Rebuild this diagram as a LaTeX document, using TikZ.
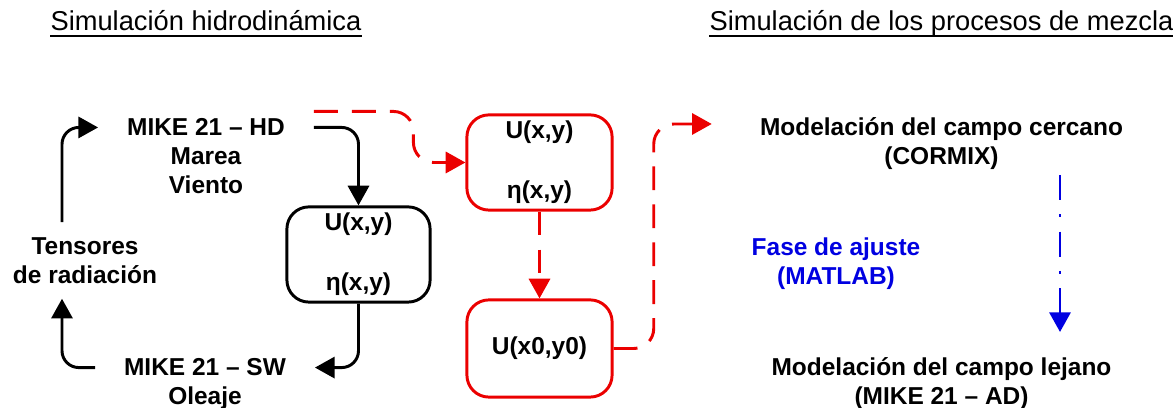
\documentclass[tikz,border=0pt]{standalone}
\usepackage{fontspec}
\setmainfont{Liberation Sans}
\usetikzlibrary{arrows.meta,positioning,calc}
\definecolor{flujorojo}{RGB}{235,0,0}
\definecolor{ajusteazul}{RGB}{0,0,225}

\begin{document}
\begin{tikzpicture}[
    txt/.style={inner sep=0pt, align=center, font=\bfseries\fontsize{17.4}{20.55}\selectfont},
    mike/.style={txt, inner xsep=0.72cm},
    titulo/.style={inner sep=0pt, font=\fontsize{19.4}{23}\selectfont},
    box/.style={draw, line width=2.1pt, rounded corners=0.55cm, minimum width=3.58cm, minimum height=2.38cm, txt},
    rbox/.style={box, draw=flujorojo, minimum width=3.63cm},
    arr/.style={-{Triangle[width=15pt,length=14pt]}, line width=2.1pt},
    rarr/.style={arr, flujorojo, dash pattern=on 17pt off 10pt},
    barr/.style={arr, ajusteazul, dash pattern=on 18pt off 10pt on 2.2pt off 10pt}
]
\useasboundingbox (0,0) rectangle (29.325,10.2);

% titulos
\node[titulo, anchor=base] (hizq) at (5.15,9.425) {Simulación hidrodinámica};
\node[titulo, anchor=base] (hder) at (23.5375,9.425) {Simulación de los procesos de mezcla};
\draw[line width=1.4pt] ([yshift=-3.5pt]hizq.base west) -- ([yshift=-3.5pt]hizq.base east);
\draw[line width=1.4pt] ([yshift=-3.5pt]hder.base west) -- ([yshift=-3.5pt]hder.base east);

% simulacion hidrodinamica
\node[mike, anchor=base] (hd) at (5.15,6.8) {MIKE 21 – HD};
\node[txt] (hdsub) at (5.15,5.9275) {Marea\\Viento};
\node[mike, anchor=base] (sw) at (5.125,0.8) {MIKE 21 – SW};
\node[txt, anchor=base] (oleaje) at (5.125,0.075) {Oleaje};
\node[txt, inner ysep=0.375cm] (tens) at (2.125,3.6875) {Tensores\\de radiación};
\node[box] (uv) at (8.9625,3.8375) {U(x,y)\\[22pt]η(x,y)};
\node[rbox] (uvr) at (13.4875,6.1375) {U(x,y)\\[22pt]η(x,y)};
\node[rbox, minimum height=2.43cm] (uvr0) at (13.4875,1.4875) {U(x0,y0)};

% procesos de mezcla
\node[txt, anchor=base] (near) at (23.5375,6.8) {Modelación del campo cercano};
\node[txt, anchor=base] (cormix) at (23.5375,6.075) {(CORMIX)};
\node[txt, text=ajusteazul] (ajuste) at (20.9,3.6) {Fase de ajuste\\(MATLAB)};
\node[txt, anchor=base] (far) at (23.5375,0.8) {Modelación del campo lejano};
\node[txt, anchor=base] (farad) at (23.5375,0.075) {(MIKE 21 – AD)};

\coordinate (redtip) at ([xshift=-1.2cm,yshift=0.3cm]near.base west);
\coordinate (fitop) at (26.5,5.825);
\coordinate (fibot) at (26.5,1.9);

\draw[arr, rounded corners=0.42cm] (hd.east) -| (uv.north);
\draw[arr, rounded corners=0.42cm] (uv.south) |- (sw.east);
\draw[arr, rounded corners=0.42cm] (sw.west) -| ([xshift=-0.575cm]tens.south);
\draw[arr, rounded corners=0.42cm] ([xshift=-0.575cm]tens.north) |- (hd.west);
\draw[rarr, rounded corners=0.5cm] ([yshift=0.4cm]hd.east) -| ([xshift=-1.3cm]uvr.west) -- (uvr.west);
\draw[rarr] (uvr.south) -- (uvr0.north);
\draw[rarr, rounded corners=0.5cm] (uvr0.east) -| ([xshift=-1.45cm]redtip) -- (redtip);
\draw[barr] (fitop) -- (fibot);
\end{tikzpicture}
\end{document}
